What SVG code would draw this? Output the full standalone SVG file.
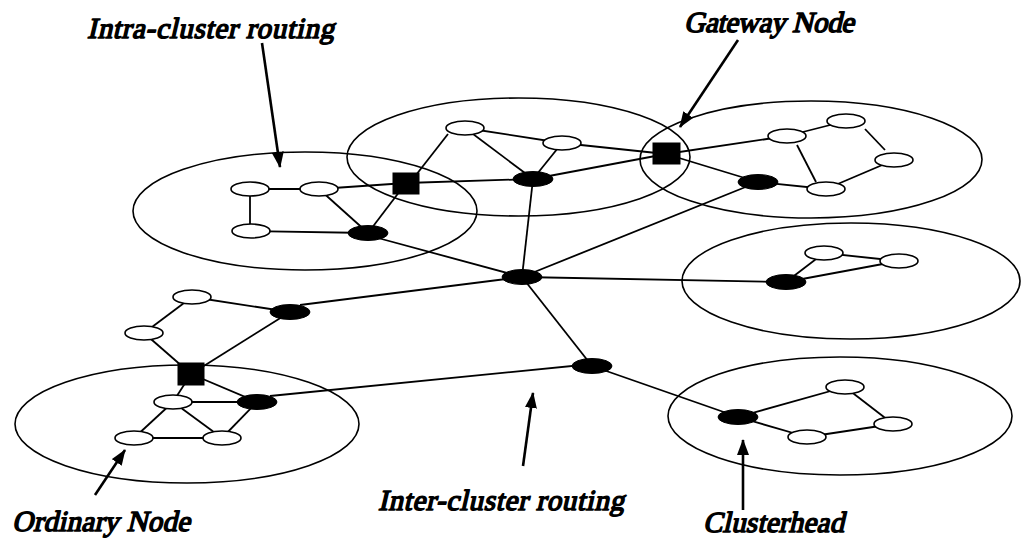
<svg xmlns="http://www.w3.org/2000/svg" width="1022" height="539" viewBox="0 0 1022 539">
<defs>
<marker id="ah" markerUnits="userSpaceOnUse" markerWidth="16" markerHeight="12" viewBox="0 0 16 12" refX="15" refY="6" orient="auto">
<path d="M0,0 L16,6 L0,12 Z" fill="#000"/>
</marker>
</defs>
<rect width="1022" height="539" fill="#fff"/>
<g id="clusters" fill="none" stroke="#000" stroke-width="1.6">
<ellipse cx="305" cy="211" rx="172" ry="59"/>
<ellipse cx="518.5" cy="157" rx="171.5" ry="59"/>
<ellipse cx="811" cy="159.5" rx="171" ry="58.5"/>
<ellipse cx="851" cy="281" rx="169" ry="58"/>
<ellipse cx="187" cy="424" rx="172" ry="59"/>
<ellipse cx="840" cy="416" rx="172" ry="59"/>
</g>
<g id="connectors" fill="none" stroke="#000" stroke-width="1.8">
<line x1="250" y1="189" x2="319" y2="189"/>
<line x1="250" y1="189" x2="250" y2="231"/>
<line x1="251" y1="231" x2="368" y2="233"/>
<line x1="319" y1="189" x2="368" y2="233"/>
<line x1="319" y1="189" x2="406" y2="183"/>
<line x1="406" y1="183" x2="368" y2="233"/>
<line x1="416" y1="175" x2="448" y2="134"/>
<line x1="406" y1="183" x2="533" y2="179"/>
<line x1="465" y1="128" x2="562" y2="143"/>
<line x1="465" y1="128" x2="533" y2="179"/>
<line x1="562" y1="143" x2="533" y2="179"/>
<line x1="562" y1="143" x2="666" y2="154"/>
<line x1="533" y1="179" x2="666" y2="154"/>
<line x1="666" y1="154" x2="787" y2="136"/>
<line x1="666" y1="154" x2="758" y2="182"/>
<line x1="758" y1="182" x2="826" y2="189"/>
<line x1="787" y1="136" x2="846" y2="121"/>
<line x1="797" y1="145" x2="816" y2="182"/>
<line x1="865" y1="129" x2="885" y2="150"/>
<line x1="894" y1="160" x2="826" y2="189"/>
<line x1="522" y1="277" x2="533" y2="179"/>
<line x1="522" y1="277" x2="758" y2="182"/>
<line x1="378" y1="238" x2="522" y2="277"/>
<line x1="300" y1="305" x2="522" y2="277"/>
<line x1="522" y1="277" x2="786" y2="282"/>
<line x1="522" y1="277" x2="592" y2="366"/>
<line x1="786" y1="282" x2="824" y2="253"/>
<line x1="824" y1="253" x2="899" y2="261"/>
<line x1="786" y1="282" x2="899" y2="261"/>
<line x1="270" y1="396" x2="592" y2="364"/>
<line x1="592" y1="366" x2="738" y2="417"/>
<line x1="738" y1="417" x2="845" y2="387"/>
<line x1="738" y1="417" x2="807" y2="437"/>
<line x1="845" y1="387" x2="893" y2="424"/>
<line x1="893" y1="424" x2="807" y2="437"/>
<line x1="192" y1="297" x2="290" y2="312"/>
<line x1="192" y1="297" x2="144" y2="333"/>
<line x1="144" y1="333" x2="191" y2="374"/>
<line x1="191" y1="374" x2="290" y2="312"/>
<line x1="191" y1="374" x2="257" y2="402"/>
<line x1="191" y1="374" x2="173" y2="402"/>
<line x1="173" y1="402" x2="257" y2="402"/>
<line x1="173" y1="402" x2="134" y2="438"/>
<line x1="173" y1="402" x2="222" y2="438"/>
<line x1="134" y1="438" x2="222" y2="438"/>
<line x1="257" y1="402" x2="222" y2="438"/>
</g>
<g id="ordinary-nodes" fill="#fff" stroke="#000" stroke-width="1.6">
<ellipse id="o1" cx="250" cy="189" rx="19" ry="7"/>
<ellipse id="o2" cx="319" cy="189" rx="19" ry="7"/>
<ellipse id="o3" cx="251" cy="231" rx="19" ry="7"/>
<ellipse id="o4" cx="465" cy="128" rx="19" ry="7"/>
<ellipse id="o5" cx="562" cy="143" rx="19" ry="7"/>
<ellipse id="o6" cx="787" cy="136" rx="19" ry="7"/>
<ellipse id="o7" cx="846" cy="121" rx="19" ry="7"/>
<ellipse id="o8" cx="894" cy="160" rx="19" ry="7"/>
<ellipse id="o9" cx="826" cy="189" rx="19" ry="7"/>
<ellipse id="o10" cx="824" cy="253" rx="19" ry="7"/>
<ellipse id="o11" cx="899" cy="261" rx="19" ry="7"/>
<ellipse id="o12" cx="192" cy="297" rx="19" ry="7"/>
<ellipse id="o13" cx="144" cy="333" rx="19" ry="7"/>
<ellipse id="o14" cx="173" cy="402" rx="19" ry="7"/>
<ellipse id="o15" cx="134" cy="438" rx="19" ry="7"/>
<ellipse id="o16" cx="222" cy="438" rx="19" ry="7"/>
<ellipse id="o17" cx="845" cy="387" rx="19" ry="7"/>
<ellipse id="o18" cx="893" cy="424" rx="19" ry="7"/>
<ellipse id="o19" cx="807" cy="437" rx="19" ry="7"/>
</g>
<g id="clusterheads" fill="#000" stroke="#000" stroke-width="1">
<ellipse id="ch1" cx="368" cy="233" rx="20" ry="7.5"/>
<ellipse id="ch2" cx="533" cy="179" rx="20" ry="7.5"/>
<ellipse id="ch3" cx="758" cy="182" rx="20" ry="7.5"/>
<ellipse id="hub" cx="522" cy="277" rx="20" ry="7.5"/>
<ellipse id="ch4" cx="786" cy="282" rx="20" ry="7.5"/>
<ellipse id="ch5" cx="290" cy="312" rx="20" ry="7.5"/>
<ellipse id="ch6" cx="592" cy="366" rx="20" ry="7.5"/>
<ellipse id="ch7" cx="257" cy="402" rx="20" ry="7.5"/>
<ellipse id="ch8" cx="738" cy="417" rx="20" ry="7.5"/>
</g>
<g id="gateways" fill="#000" stroke="#000" stroke-width="1">
<rect id="g1" x="393" y="173" width="26" height="21"/>
<rect id="g2" x="653" y="143" width="27" height="21"/>
<rect id="g3" x="178" y="363" width="26" height="22"/>
</g>
<g id="annotations" fill="none" stroke="#000" stroke-width="2.6">
<line x1="262" y1="43" x2="280" y2="167" marker-end="url(#ah)"/>
<line x1="738" y1="40" x2="680" y2="127" marker-end="url(#ah)"/>
<line x1="95" y1="495" x2="125" y2="450" marker-end="url(#ah)"/>
<line x1="523" y1="466" x2="533" y2="393" marker-end="url(#ah)"/>
<line x1="743" y1="510" x2="743" y2="440" marker-end="url(#ah)"/>
</g>
<g id="labels" font-family="Liberation Serif" font-size="29" fill="#000" stroke="#000" stroke-width="1.5" stroke-linejoin="round">
<text transform="translate(87,38) skewX(-13)" x="0" y="0" textLength="247" lengthAdjust="spacing">Intra-cluster routing</text>
<text transform="translate(684,32) skewX(-13)" x="0" y="0" textLength="170" lengthAdjust="spacing">Gateway Node</text>
<text transform="translate(12,531) skewX(-13)" x="0" y="0" textLength="178" lengthAdjust="spacing">Ordinary Node</text>
<text transform="translate(378,510) skewX(-13)" x="0" y="0" textLength="246" lengthAdjust="spacing">Inter-cluster routing</text>
<text transform="translate(703,532) skewX(-13)" x="0" y="0" textLength="141" lengthAdjust="spacing">Clusterhead</text>
</g>
</svg>
